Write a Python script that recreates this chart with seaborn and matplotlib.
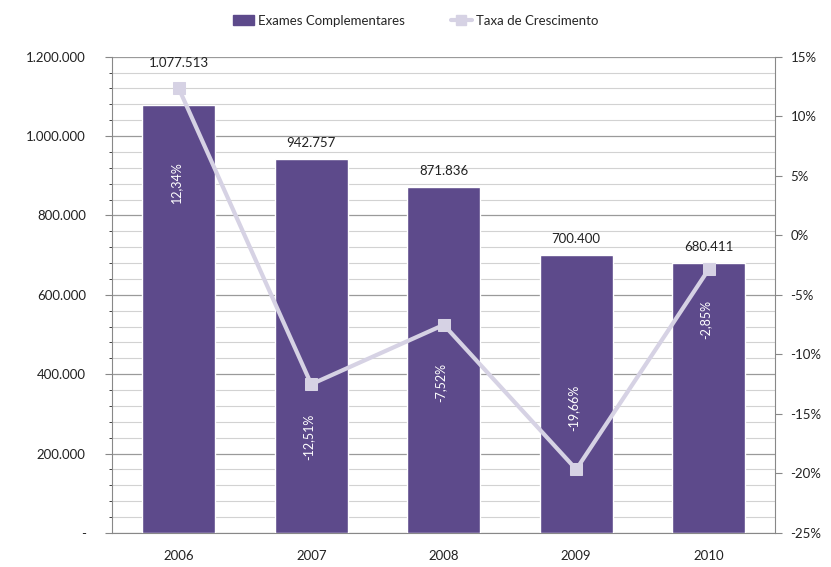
import numpy as np
import pandas as pd
import matplotlib
matplotlib.use("Agg")
import matplotlib.pyplot as plt
from matplotlib.ticker import MultipleLocator, FuncFormatter
from matplotlib.lines import Line2D
from matplotlib.patches import Patch
import seaborn as sns

# dados
anos = ["2006", "2007", "2008", "2009", "2010"]
exames = [1077513, 942757, 871836, 700400, 680411]
taxa = [12.34, -12.51, -7.52, -19.66, -2.85]
rotulos_exames = ["1.077.513", "942.757", "871.836", "700.400", "680.411"]
rotulos_taxa = ["12,34%", "-12,51%", "-7,52%", "-19,66%", "-2,85%"]

roxo = "#5d4a8b"
lilas = "#d6d2e4"

sns.set_style("white")
plt.rcParams['font.family'] = ['Lato', 'DejaVu Sans']

df = pd.DataFrame({"ano": anos, "exames": exames, "taxa": taxa})

fig = plt.figure(figsize=(8.31, 5.67), dpi=100)
ax = fig.add_axes([0.135, 0.06, 0.798, 0.84])

sns.barplot(data=df, x="ano", y="exames", color=roxo, saturation=1,
            width=0.55, ax=ax, zorder=3)

ax.set_ylim(0, 1200000)
ax.yaxis.set_major_locator(MultipleLocator(200000))
ax.yaxis.set_minor_locator(MultipleLocator(40000))
ax.yaxis.set_major_formatter(FuncFormatter(
    lambda v, p: "-" if v == 0 else f"{int(v):,}".replace(",", ".")))
ax.grid(axis="y", which="minor", color="#d2d2d2", lw=0.8, zorder=0)
ax.grid(axis="y", which="major", color="#9a9a9a", lw=0.9, zorder=0)
ax.set_xlabel("")
ax.set_ylabel("")
ax.tick_params(axis="x", length=0, labelsize=9.5, colors="#222222", pad=12)
ax.tick_params(axis="y", which="major", left=True, length=5, color="#888888",
               labelsize=9.5, labelcolor="#222222", pad=14)
for s in ["top", "right"]:
    ax.spines[s].set_visible(False)
for s in ["left", "bottom"]:
    ax.spines[s].set_color("#888888")

# rótulos das barras
desloc_barras = [36, 10, 10, 10, 10]
for i, (v, t) in enumerate(zip(exames, rotulos_exames)):
    ax.annotate(t, (i, v), xytext=(0, desloc_barras[i]), textcoords="offset pixels",
                ha="center", va="bottom", fontsize=9.5, color="#222222")

ax2 = ax.twinx()
sns.lineplot(x=np.arange(len(anos)), y=taxa, ax=ax2, color=lilas, lw=3,
             marker="s", markersize=8, markeredgecolor=lilas, zorder=5)
ax2.set_ylim(-25, 15)
ax2.yaxis.set_major_locator(MultipleLocator(5))
ax2.yaxis.set_major_formatter(FuncFormatter(lambda v, p: f"{int(v)}%"))
ax2.tick_params(axis="y", right=True, length=5, color="#888888",
                labelsize=9.5, labelcolor="#222222", pad=6)
for s in ["top", "left", "bottom"]:
    ax2.spines[s].set_visible(False)
ax2.spines["right"].set_color("#888888")
ax2.grid(False)

# rótulos da taxa (verticais, brancos)
desloc_taxa = [-94, -53, -58, 62, -50]
for i, (v, t) in enumerate(zip(taxa, rotulos_taxa)):
    ax2.annotate(t, (i, v), xytext=(-3, desloc_taxa[i]), textcoords="offset pixels",
                 ha="center", va="center", rotation=90, fontsize=9, color="white")

handles = [Patch(color=roxo, label="Exames Complementares"),
           Line2D([], [], color=lilas, lw=3, marker="s", markersize=7,
                  label="Taxa de Crescimento")]
fig.legend(handles=handles, loc="upper center", bbox_to_anchor=(0.5, 0.995),
           ncol=2, frameon=False, fontsize=9.5, handlelength=1.6,
           columnspacing=3.5, handletextpad=0.3)

fig.savefig("out.png", dpi=100)
